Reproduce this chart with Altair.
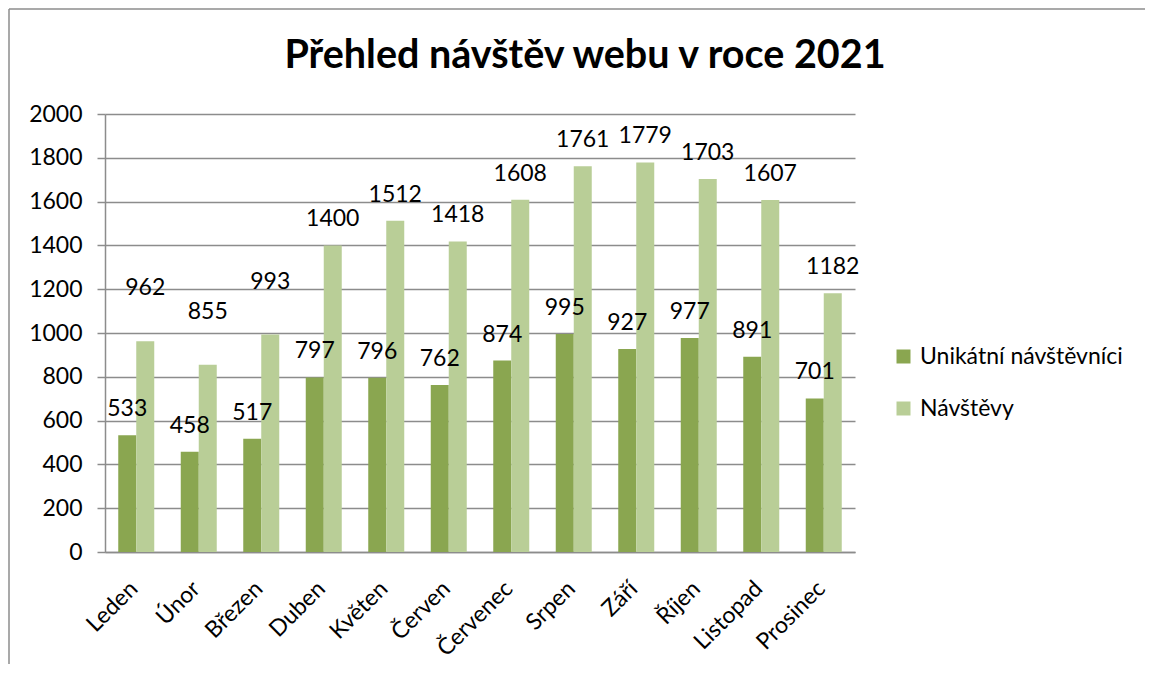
import altair as alt
import pandas as pd

months = ["Leden", "Únor", "Březen", "Duben", "Květen", "Červen", "Červenec",
          "Srpen", "Září", "Říjen", "Listopad", "Prosinec"]
unikatni = [533, 458, 517, 797, 796, 762, 874, 995, 927, 977, 891, 701]
navstevy = [962, 855, 993, 1400, 1512, 1418, 1608, 1761, 1779, 1703, 1607, 1182]
series = ["Unikátní návštěvníci", "Návštěvy"]
colors = ["#8AA650", "#B9CE97"]
title_text = "Přehled návštěv webu v roce 2021"

rows = []
for i, m in enumerate(months):
    rows.append({"mesic": m, "rada": series[0], "hodnota": unikatni[i], "idx": i})
    rows.append({"mesic": m, "rada": series[1], "hodnota": navstevy[i], "idx": i})
df = pd.DataFrame(rows)

FONT = "Lato"
FS = 23
GREY = "#8c8c8c"

base = alt.Chart(df)

x_enc = alt.X("mesic:N", sort=months, title=None,
              scale=alt.Scale(paddingInner=0.424, paddingOuter=0.212),
              axis=alt.Axis(labelAngle=-45, labelFontSize=FS, labelFont=FONT,
                            labelColor="#000000", ticks=False, labelPadding=25,
                            labelOffset=-10,
                            domainColor=GREY, domainWidth=1.5, grid=False))
y_enc = alt.Y("hodnota:Q", title=None,
              scale=alt.Scale(domain=[0, 2000], nice=False),
              axis=alt.Axis(values=list(range(0, 2001, 200)), format="d",
                            labelFontSize=FS, labelFont=FONT, labelColor="#000000",
                            tickSize=8, tickColor=GREY, tickWidth=1.5, labelPadding=15,
                            domainColor=GREY, domainWidth=1.5,
                            gridColor=GREY, gridWidth=1.5))
color_enc = alt.Color("rada:N", sort=series,
                      scale=alt.Scale(domain=series, range=colors),
                      legend=alt.Legend(title=None, orient="none", legendX=787, legendY=231,
                                        symbolType="square", symbolSize=196,
                                        symbolStrokeWidth=0, labelFontSize=FS,
                                        labelFont=FONT, labelColor="#000000",
                                        labelLimit=0, rowPadding=28, labelOffset=5))

bars = base.mark_bar().encode(
    x=x_enc, y=y_enc, color=color_enc,
    xOffset=alt.XOffset("rada:N", sort=series),
)

labels_std = base.transform_filter(
    "!(datum.rada == 'Návštěvy' && datum.idx < 3)"
).mark_text(baseline="alphabetic", dy=-19, fontSize=FS, font=FONT, color="#000000").encode(
    x=alt.X("mesic:N", sort=months),
    xOffset=alt.XOffset("rada:N", sort=series),
    y="hodnota:Q",
    text="hodnota:Q",
)

labels_raised = base.transform_filter(
    "datum.rada == 'Návštěvy' && datum.idx < 3"
).mark_text(baseline="alphabetic", dy=-46, fontSize=FS, font=FONT, color="#000000").encode(
    x=alt.X("mesic:N", sort=months),
    xOffset=alt.XOffset("rada:N", sort=series),
    y="hodnota:Q",
    text="hodnota:Q",
)

one = pd.DataFrame({"t": [title_text]})

frame_top = alt.Chart(one).mark_rule(stroke=GREY, strokeWidth=1.5).encode(
    x=alt.value(-96), x2=alt.value(1040), y=alt.value(-105))
frame_left = alt.Chart(one).mark_rule(stroke=GREY, strokeWidth=1.5).encode(
    x=alt.value(-96), y=alt.value(-105), y2=alt.value(550))

title = alt.Chart(one).mark_text(
    fontSize=39.5, font=FONT, fontWeight="bold", color="#000000",
    baseline="alphabetic", align="center"
).encode(x=alt.value(480), y=alt.value(-46), text="t:N")

chart = alt.layer(frame_top, frame_left, title, bars, labels_std, labels_raised).properties(
    width=750, height=438,
    autosize=alt.AutoSizeParams(type="none"),
    padding={"left": 97, "top": 106, "right": 290, "bottom": 112},
).configure_view(stroke=None)

chart.save("out.html", embed_options={"renderer": "svg", "actions": False})
